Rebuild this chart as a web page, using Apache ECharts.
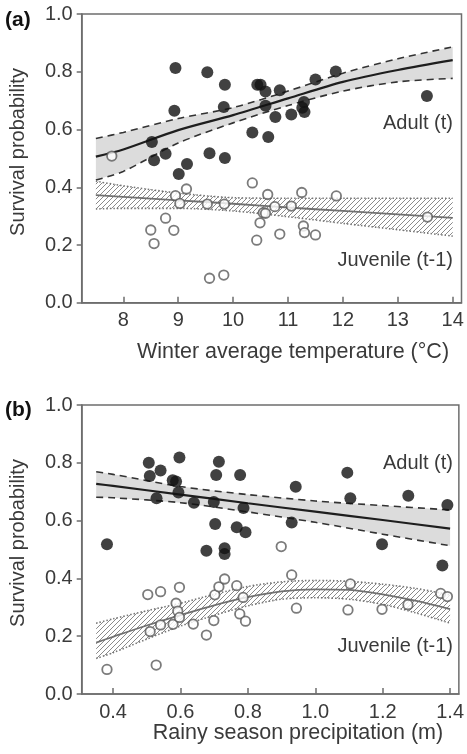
<!DOCTYPE html>
<html>
<head>
<meta charset="utf-8">
<script src="https://cdn.jsdelivr.net/npm/echarts@6/dist/echarts.min.js"></script>
<style>
html,body{margin:0;padding:0;background:#fff;}
#c{width:467px;height:754px;}
</style>
</head>
<body>
<div id="c"></div>
<script>
// ---------- tick labels ----------
const xTicksA = [8, 9, 10, 11, 12, 13, 14];
const xTicksB = [0.4, 0.6, 0.8, 1.0, 1.2, 1.4];

// ---------- panel (a): winter temperature ----------
const adultTempX = [8.52, 8.56, 8.77, 8.95, 8.93, 9.01, 9.16, 9.53, 9.57, 9.85, 9.83, 9.85, 10.35, 10.44, 10.50, 10.59, 10.59, 10.64, 10.77, 10.85, 11.06, 11.29, 11.26, 11.30, 11.50, 11.87, 13.53];
const adultTempY = [0.557, 0.494, 0.516, 0.813, 0.665, 0.446, 0.481, 0.798, 0.518, 0.755, 0.678, 0.501, 0.590, 0.755, 0.755, 0.732, 0.682, 0.574, 0.643, 0.736, 0.652, 0.695, 0.675, 0.661, 0.773, 0.801, 0.716];
const juvTempX = [7.79, 8.50, 8.56, 8.77, 8.92, 8.95, 9.03, 9.15, 9.53, 9.57, 9.83, 9.84, 10.35, 10.43, 10.49, 10.55, 10.59, 10.63, 10.76, 10.85, 11.06, 11.25, 11.28, 11.30, 11.50, 11.88, 13.54];
const juvTempY = [0.508, 0.252, 0.205, 0.293, 0.251, 0.371, 0.344, 0.394, 0.342, 0.085, 0.096, 0.342, 0.415, 0.217, 0.277, 0.312, 0.310, 0.375, 0.333, 0.238, 0.335, 0.382, 0.266, 0.243, 0.235, 0.370, 0.297];

const fitTempX = [7.5, 8, 9, 10, 11, 12, 13, 14];
const adultFitTemp = [0.506, 0.531, 0.598, 0.650, 0.708, 0.765, 0.806, 0.840];
const adultUpTemp = [0.569, 0.590, 0.638, 0.676, 0.733, 0.795, 0.845, 0.886];
const adultLoTemp = [0.425, 0.455, 0.553, 0.623, 0.683, 0.733, 0.765, 0.777];
const juvFitTemp = [0.373, 0.367, 0.355, 0.343, 0.330, 0.318, 0.306, 0.294];
const juvUpTemp = [0.421, 0.405, 0.380, 0.364, 0.362, 0.362, 0.362, 0.362];
const juvLoTemp = [0.325, 0.327, 0.327, 0.318, 0.298, 0.275, 0.253, 0.231];

// ---------- panel (b): rainy season precipitation ----------
const adultRainX = [0.382, 0.506, 0.509, 0.541, 0.529, 0.577, 0.587, 0.597, 0.594, 0.640, 0.677, 0.699, 0.703, 0.706, 0.714, 0.731, 0.731, 0.767, 0.777, 0.787, 0.793, 0.930, 0.942, 1.095, 1.104, 1.198, 1.276, 1.377, 1.392];
const adultRainY = [0.518, 0.800, 0.754, 0.773, 0.677, 0.740, 0.735, 0.818, 0.697, 0.662, 0.496, 0.664, 0.588, 0.758, 0.804, 0.504, 0.484, 0.577, 0.758, 0.644, 0.560, 0.593, 0.717, 0.766, 0.677, 0.518, 0.686, 0.445, 0.654];
const juvRainX = [0.382, 0.503, 0.510, 0.528, 0.541, 0.541, 0.578, 0.587, 0.592, 0.597, 0.597, 0.638, 0.677, 0.699, 0.702, 0.714, 0.731, 0.767, 0.776, 0.786, 0.793, 0.899, 0.930, 0.944, 1.097, 1.104, 1.198, 1.275, 1.372, 1.392];
const juvRainY = [0.085, 0.344, 0.216, 0.100, 0.354, 0.239, 0.241, 0.314, 0.287, 0.265, 0.369, 0.242, 0.204, 0.254, 0.343, 0.371, 0.398, 0.375, 0.277, 0.334, 0.252, 0.510, 0.412, 0.297, 0.291, 0.381, 0.293, 0.309, 0.348, 0.337];

const fitRainAX = [0.35, 0.4, 0.6, 0.8, 1.0, 1.2, 1.4];
const adultFitRain = [0.727, 0.720, 0.690, 0.660, 0.631, 0.602, 0.572];
const adultUpRain = [0.769, 0.760, 0.718, 0.690, 0.668, 0.652, 0.637];
const adultLoRain = [0.681, 0.679, 0.662, 0.630, 0.594, 0.553, 0.513];

const fitRainJX = [0.35, 0.4, 0.5, 0.6, 0.7, 0.8, 0.9, 1.0, 1.1, 1.2, 1.3, 1.4];
const juvFitRain = [0.178, 0.198, 0.237, 0.273, 0.307, 0.335, 0.355, 0.362, 0.360, 0.345, 0.322, 0.294];
const juvUpRain = [0.245, 0.260, 0.288, 0.314, 0.345, 0.372, 0.388, 0.393, 0.390, 0.380, 0.365, 0.343];
const juvLoRain = [0.123, 0.143, 0.190, 0.235, 0.272, 0.305, 0.328, 0.333, 0.328, 0.310, 0.280, 0.245];

// ---------- helpers ----------
const zip = (xs, ys) => xs.map((x, i) => [x, ys[i]]);
const rows3 = (xs, up, lo) => xs.map((x, i) => [x, up[i], lo[i]]);

const hatch = document.createElement('canvas');
hatch.width = 5; hatch.height = 5;
(function () {
  const g = hatch.getContext('2d');
  g.strokeStyle = '#8a8a8a';
  g.lineWidth = 1;
  g.beginPath();
  g.moveTo(-1, 6); g.lineTo(6, -1);
  g.moveTo(-3.5, 3.5); g.lineTo(3.5, -3.5);
  g.moveTo(1.5, 8.5); g.lineTo(8.5, 1.5);
  g.stroke();
})();

const FONT = '"Liberation Sans", Arial, Helvetica, sans-serif';
const AX = '#6e6e6e';
const TXT = '#3a3a3a';

function xAxisCfg(idx, min, max, ticks, fmt) {
  return {
    gridIndex: idx, type: 'value', min: min, max: max, z: 10,
    axisLine: { show: true, lineStyle: { color: AX, width: 1.5 } },
    axisTick: { show: true, inside: true, length: 6, customValues: ticks, lineStyle: { color: AX, width: 1.5 } },
    axisLabel: { customValues: ticks, formatter: fmt, color: TXT, fontSize: 20, fontFamily: FONT, margin: 8 },
    splitLine: { show: false }
  };
}
function yAxisCfg(idx) {
  return {
    gridIndex: idx, type: 'value', min: 0, max: 1, interval: 0.2, z: 10,
    axisLine: { show: true, lineStyle: { color: AX, width: 1.5 } },
    axisTick: { show: true, inside: false, length: 5, lineStyle: { color: AX, width: 1.5 } },
    axisLabel: { formatter: v => v.toFixed(1), color: TXT, fontSize: 20, fontFamily: FONT, margin: 9 },
    splitLine: { show: false }
  };
}

// confidence band: a polygon drawn through the axes (api.coord), boundaries as smooth lines on top
function bandSeries(idx, xs, fit, up, lo, kind) {
  const isAdult = kind === 'adult';
  const edgeStyle = isAdult
    ? { color: '#333', width: 1.6, type: [7, 5] }
    : { color: '#777', width: 1.6, type: [1.5, 2] };
  const fillColor = isAdult ? '#dcdcdc' : { image: hatch, repeat: 'repeat' };
  return [
    {
      type: 'custom', xAxisIndex: idx, yAxisIndex: idx, data: rows3(xs, up, lo),
      encode: { x: 0, y: [1, 2] }, silent: true, z: 1, clip: true,
      renderItem: function (params, api) {
        if (params.dataIndexInside !== 0) return null;
        const n = params.dataInsideLength;
        const top = [], bot = [];
        for (let i = 0; i < n; i++) {
          top.push(api.coord([api.value(0, i), api.value(1, i)]));
          bot.push(api.coord([api.value(0, i), api.value(2, i)]));
        }
        return { type: 'polygon', shape: { points: top.concat(bot.reverse()) }, style: { fill: fillColor, stroke: null } };
      }
    },
    { type: 'line', xAxisIndex: idx, yAxisIndex: idx, data: zip(xs, up), smooth: 0.3,
      symbol: 'none', lineStyle: edgeStyle, z: 5, silent: true },
    { type: 'line', xAxisIndex: idx, yAxisIndex: idx, data: zip(xs, lo), smooth: 0.3,
      symbol: 'none', lineStyle: edgeStyle, z: 5, silent: true },
    { type: 'line', xAxisIndex: idx, yAxisIndex: idx, data: zip(xs, fit), smooth: 0.3, symbol: 'none',
      lineStyle: isAdult ? { color: '#1e1e1e', width: 2.2 } : { color: '#707070', width: 1.8 }, z: 6, silent: true }
  ];
}
function pointSeries(idx, xs, ys, kind) {
  const isAdult = kind === 'adult';
  return {
    type: 'scatter', xAxisIndex: idx, yAxisIndex: idx, data: zip(xs, ys),
    symbol: 'circle', symbolSize: isAdult ? 12 : 9.5,
    itemStyle: isAdult ? { color: '#111' } : { color: '#fff', borderColor: '#5a5a5a', borderWidth: 1.8 },
    z: isAdult ? 8 : 7
  };
}

const txt = (x, y, text, opts) => Object.assign({
  type: 'text', x: x, y: y, silent: true, z: 100,
  style: Object.assign({ text: text, fill: TXT, font: '20px ' + FONT, align: 'center', verticalAlign: 'middle' }, opts || {})
});

const chart = echarts.init(document.getElementById('c'), null, { renderer: 'canvas' });
chart.setOption({
  animation: false,
  backgroundColor: '#fff',
  grid: [
    { left: 81.7, top: 14, width: 379.8, height: 288.8, show: true, borderColor: AX, borderWidth: 1.5, backgroundColor: 'transparent' },
    { left: 81.7, top: 405, width: 379.8, height: 289, show: true, borderColor: AX, borderWidth: 1.5, backgroundColor: 'transparent' }
  ],
  xAxis: [
    xAxisCfg(0, 7.242, 14.16, xTicksA, v => String(Math.round(v))),
    xAxisCfg(1, 0.307, 1.426, xTicksB, v => v.toFixed(1))
  ],
  yAxis: [yAxisCfg(0), yAxisCfg(1)],
  series: [].concat(
    bandSeries(0, fitTempX, adultFitTemp, adultUpTemp, adultLoTemp, 'adult'),
    bandSeries(0, fitTempX, juvFitTemp, juvUpTemp, juvLoTemp, 'juv'),
    [pointSeries(0, juvTempX, juvTempY, 'juv'), pointSeries(0, adultTempX, adultTempY, 'adult')],
    bandSeries(1, fitRainAX, adultFitRain, adultUpRain, adultLoRain, 'adult'),
    bandSeries(1, fitRainJX, juvFitRain, juvUpRain, juvLoRain, 'juv'),
    [pointSeries(1, juvRainX, juvRainY, 'juv'), pointSeries(1, adultRainX, adultRainY, 'adult')]
  ),
  graphic: [
    txt(5, 20, '(a)', { font: 'bold 21px ' + FONT, fill: '#111', align: 'left' }),
    txt(5, 410, '(b)', { font: 'bold 21px ' + FONT, fill: '#111', align: 'left' }),
    Object.assign(txt(18, 152, 'Survival probability'), { rotation: Math.PI / 2 }),
    Object.assign(txt(18, 543, 'Survival probability'), { rotation: Math.PI / 2 }),
    txt(293, 352, 'Winter average temperature (°C)', { font: '21.5px ' + FONT }),
    txt(298, 733, 'Rainy season precipitation (m)', { font: '21.5px ' + FONT }),
    txt(453, 123, 'Adult (t)', { align: 'right' }),
    txt(453, 260, 'Juvenile (t-1)', { align: 'right' }),
    txt(453, 463, 'Adult (t)', { align: 'right' }),
    txt(453, 646, 'Juvenile (t-1)', { align: 'right' })
  ]
});
</script>
</body>
</html>
